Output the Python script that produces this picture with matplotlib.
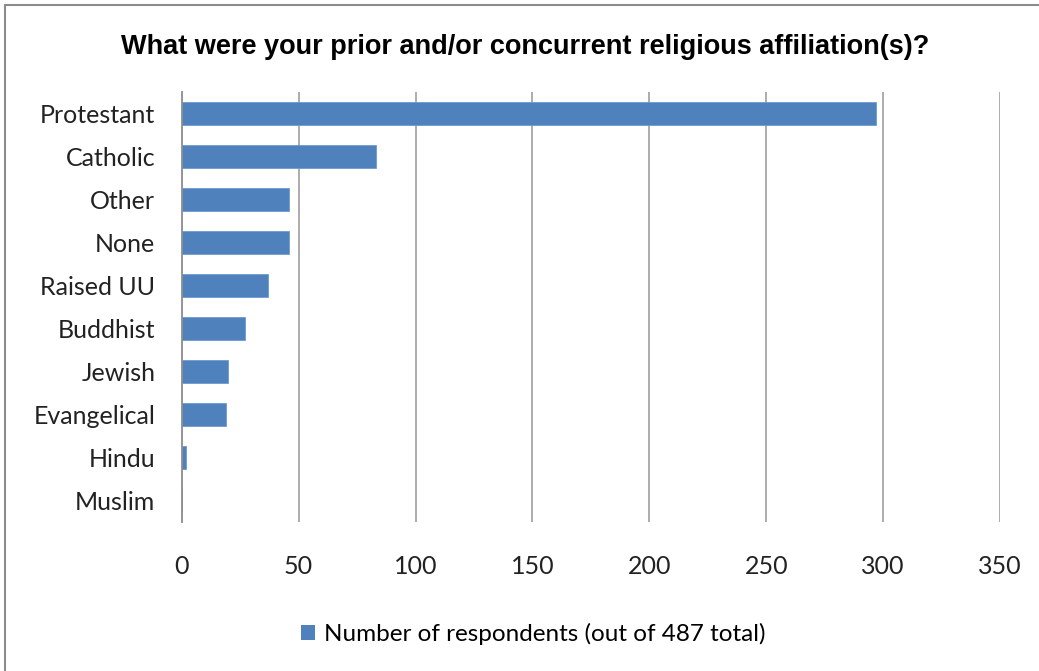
import matplotlib
matplotlib.use("Agg")
import matplotlib.pyplot as plt
from matplotlib.patches import Rectangle

categories = ["Protestant", "Catholic", "Other", "None", "Raised UU",
              "Buddhist", "Jewish", "Evangelical", "Hindu", "Muslim"]
values = [297, 83, 46, 46, 37, 27, 20, 19, 2, 0]
xticks = [0, 50, 100, 150, 200, 250, 300, 350]
series_name = "Number of respondents (out of 487 total)"
title = "What were your prior and/or concurrent religious affiliation(s)?"

W, H = 1039, 671
fig = plt.figure(figsize=(W / 100, H / 100), dpi=100)
fig.patch.set_facecolor("white")

# outer chart border
fig.add_artist(Rectangle((5 / W, -0.01), 1.02, (H - 5) / H + 0.01, transform=fig.transFigure,
                         fill=False, edgecolor="#8c8c8c", linewidth=1.5))

ax = fig.add_axes([181.7 / W, 1 - 522 / H, (1000 - 181.7) / W, (522 - 92) / H])
ypos = list(range(len(categories)))
ax.barh(ypos, values, height=0.52, color="#4F81BD", edgecolor="#6f9bd0", linewidth=0.6, zorder=3)
ax.set_ylim(len(categories) - 0.5, -0.5)
ax.set_xlim(0, 350)
ax.set_xticks(xticks)
ax.set_xticklabels([str(t) for t in xticks])
ax.set_yticks(ypos)
ax.set_yticklabels(categories)
for t in xticks[1:]:
    ax.axvline(t, color="#a6a6a6", linewidth=1.3, zorder=1)
for s in ["top", "right", "bottom"]:
    ax.spines[s].set_visible(False)
ax.spines["left"].set_color("#8c8c8c")
ax.spines["left"].set_linewidth(1.3)
ax.spines["left"].set_zorder(4)
ax.tick_params(axis="both", length=0, labelsize=18, colors="#222222")
ax.tick_params(axis="x", pad=24)
ax.tick_params(axis="y", pad=19)
for lbl in ax.get_xticklabels() + ax.get_yticklabels():
    lbl.set_fontfamily("Lato")

fig.text(525 / W, 1 - 47 / H, title, ha="center", va="center",
         fontsize=19.5, fontweight="bold", family="Liberation Sans", color="black")

handle = Rectangle((0, 0), 1, 1, facecolor="#4F81BD")
fig.legend([handle], [series_name], loc="center", bbox_to_anchor=(533 / W, 1 - 634 / H),
           frameon=False, prop={"family": "Lato", "size": 17.5}, handlelength=0.6,
           handleheight=0.6, handletextpad=0.35)

fig.savefig("out.png", dpi=100, facecolor="white")
